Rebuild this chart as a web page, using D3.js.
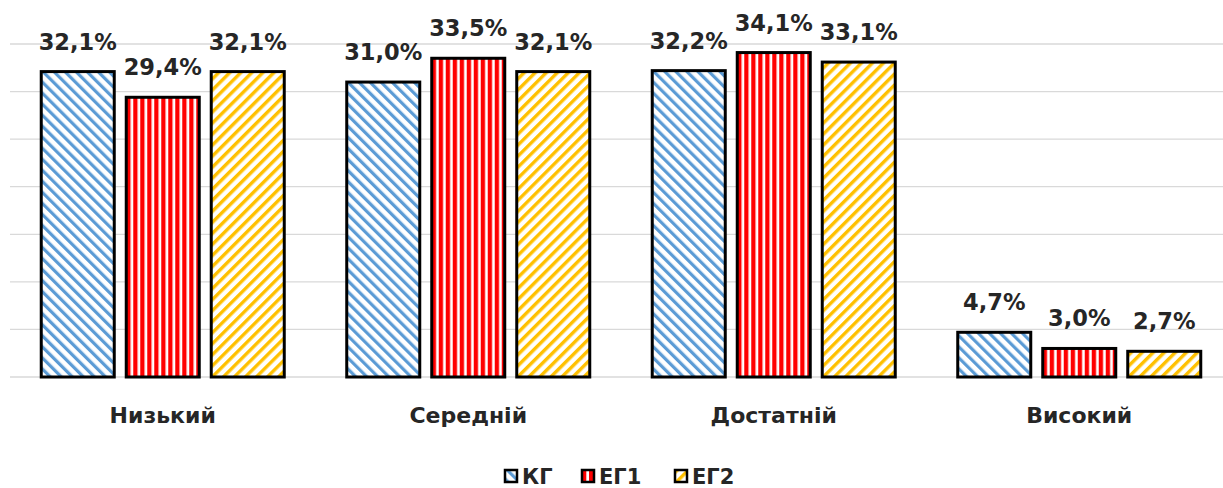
<!DOCTYPE html>
<html>
<head>
<meta charset="utf-8">
<script src="https://cdn.jsdelivr.net/npm/d3@7"></script>
<style>
  body { margin: 0; background: #fff; }
  text { font-family: "DejaVu Sans", sans-serif; font-weight: bold; fill: #262626; }
</style>
</head>
<body>
<svg id="chart" width="1223" height="488"></svg>
<script>
// data
var categories = ["Низький", "Середній", "Достатній", "Високий"];
var seriesNames = ["КГ", "ЕГ1", "ЕГ2"];
var kgValues  = [32.1, 31.0, 32.2, 4.7];
var eg1Values = [29.4, 33.5, 34.1, 3.0];
var eg2Values = [32.1, 32.1, 33.1, 2.7];
var yTicks = [0, 5, 10, 15, 20, 25, 30, 35];

var seriesValues = [kgValues, eg1Values, eg2Values];
var svg = d3.select("#chart");
var defs = svg.append("defs");

// hatch fills, one per series
function stripes(id, color, angle, period, thick) {
    var p = defs.append("pattern")
        .attr("id", id)
        .attr("patternUnits", "userSpaceOnUse")
        .attr("width", period)
        .attr("height", period)
        .attr("patternTransform", "rotate(" + angle + ")");
    p.append("rect").attr("width", period).attr("height", period).attr("fill", "#fff");
    p.append("rect").attr("width", thick).attr("height", period).attr("fill", color);
}
stripes("patKG", "#5B9BD5", -45, 7.8, 3.2);
stripes("patEG1", "#FF0000", 0, 7, 4.3);
stripes("patEG2", "#FFC000", 45, 7.8, 3.4);
var fills = ["url(#patKG)", "url(#patEG1)", "url(#patEG2)"];

var x0 = d3.scaleBand().domain(categories).range([10, 1232]);
var x1 = d3.scaleBand().domain(seriesNames).range([0, 255]).paddingInner(0.141).paddingOuter(0.0705);
var y = d3.scaleLinear().domain([0, 35]).range([377, 44]);

// gridlines
svg.append("g").selectAll("line")
    .data(yTicks)
    .enter().append("line")
    .attr("x1", 10).attr("x2", 1223)
    .attr("y1", d => y(d)).attr("y2", d => y(d))
    .attr("stroke", "#D9D9D9")
    .attr("stroke-width", 1.3);

var groups = svg.append("g").selectAll("g")
    .data(categories)
    .enter().append("g")
    .attr("transform", d => "translate(" + (x0(d) + x0.bandwidth() / 2 - 127.5) + ",0)");

groups.selectAll("rect")
    .data((c, ci) => seriesNames.map((s, si) => ({ s: s, si: si, v: seriesValues[si][ci] })))
    .enter().append("rect")
    .attr("x", d => x1(d.s))
    .attr("width", x1.bandwidth())
    .attr("y", d => y(d.v))
    .attr("height", d => y(0) - y(d.v))
    .attr("fill", d => fills[d.si])
    .attr("stroke", "#000")
    .attr("stroke-width", 3);

groups.selectAll("text")
    .data((c, ci) => seriesNames.map((s, si) => ({ s: s, si: si, v: seriesValues[si][ci] })))
    .enter().append("text")
    .attr("x", d => x1(d.s) + x1.bandwidth() / 2)
    .attr("y", d => y(d.v) - 22)
    .attr("text-anchor", "middle")
    .style("font-size", "22.5px")
    .text(d => d.v.toFixed(1).replace(".", ",") + "%");

// category axis labels
svg.append("g").selectAll("text")
    .data(categories)
    .enter().append("text")
    .attr("x", d => x0(d) + x0.bandwidth() / 2)
    .attr("y", 423)
    .attr("text-anchor", "middle")
    .style("font-size", "22px")
    .text(d => d);

// legend
var legendX = [505, 582, 675];
var legend = svg.append("g").selectAll("g")
    .data(seriesNames)
    .enter().append("g")
    .attr("transform", (d, i) => "translate(" + legendX[i] + ",470)");
legend.append("rect")
    .attr("width", 12).attr("height", 12)
    .attr("fill", (d, i) => fills[i])
    .attr("stroke", "#000")
    .attr("stroke-width", 2.5);
legend.append("text")
    .attr("x", 17).attr("y", 14)
    .style("font-size", "21px")
    .text(d => d);
</script>
</body>
</html>
